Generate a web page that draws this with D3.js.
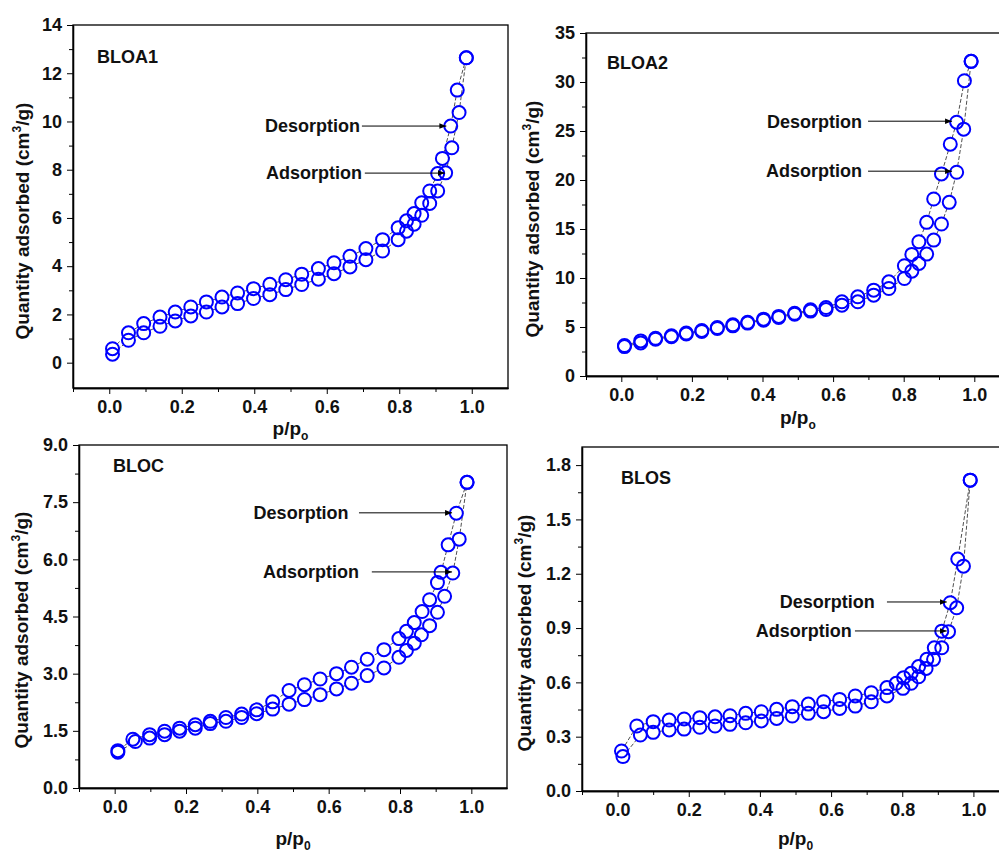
<!DOCTYPE html>
<html>
<head>
<meta charset="utf-8">
<script src="https://cdn.jsdelivr.net/npm/d3@7"></script>
<style>
  body { margin: 0; background: #fff; }
  svg { display: block; font-family: "Liberation Sans", Arial, sans-serif; font-weight: bold; }
</style>
</head>
<body>
<div id="chart"></div>
<script>
// ---- data (p/p0 , quantity adsorbed) ----
const bloa1AdsX = [0.009,0.053,0.095,0.140,0.182,0.225,0.268,0.311,0.354,0.398,0.443,0.487,0.531,0.577,0.620,0.664,0.708,0.754,0.797,0.820,0.841,0.862,0.884,0.906,0.928,0.945,0.965,0.985];
const bloa1AdsY = [0.35,0.93,1.24,1.51,1.73,1.94,2.10,2.31,2.45,2.66,2.82,3.03,3.24,3.46,3.69,3.97,4.27,4.63,5.10,5.45,5.74,6.11,6.60,7.12,7.87,8.91,10.37,12.64];
const bloa1DesX = [0.985,0.960,0.942,0.919,0.906,0.884,0.862,0.841,0.820,0.797,0.754,0.708,0.664,0.620,0.577,0.531,0.487,0.443,0.398,0.354,0.311,0.268,0.225,0.182,0.140,0.095,0.053,0.009];
const bloa1DesY = [12.64,11.30,9.81,8.47,7.84,7.12,6.63,6.18,5.88,5.59,5.10,4.73,4.41,4.14,3.90,3.67,3.44,3.25,3.07,2.89,2.72,2.52,2.31,2.10,1.89,1.62,1.24,0.58];

const bloa2AdsX = [0.009,0.055,0.097,0.142,0.184,0.228,0.272,0.316,0.358,0.403,0.446,0.491,0.536,0.580,0.625,0.670,0.715,0.758,0.802,0.823,0.843,0.865,0.885,0.907,0.929,0.950,0.970,0.991];
const bloa2AdsY = [3.00,3.37,3.75,4.00,4.28,4.55,4.85,5.12,5.40,5.70,5.98,6.30,6.62,6.78,7.23,7.57,8.25,8.93,9.95,10.70,11.49,12.44,13.87,15.51,17.72,20.79,25.19,32.11];
const bloa2DesX = [0.991,0.972,0.950,0.932,0.907,0.885,0.865,0.843,0.823,0.802,0.758,0.715,0.670,0.625,0.580,0.536,0.491,0.446,0.403,0.358,0.316,0.272,0.228,0.184,0.142,0.097,0.055,0.009];
const bloa2DesY = [32.11,30.13,25.90,23.65,20.62,18.06,15.68,13.70,12.41,11.25,9.61,8.76,8.08,7.57,6.99,6.75,6.40,6.08,5.80,5.48,5.22,4.95,4.65,4.38,4.10,3.85,3.58,3.10];

const blocAdsX = [0.009,0.058,0.098,0.140,0.182,0.226,0.268,0.312,0.356,0.398,0.443,0.489,0.532,0.576,0.622,0.664,0.708,0.755,0.797,0.818,0.840,0.860,0.883,0.905,0.925,0.948,0.966,0.988];
const blocAdsY = [0.94,1.22,1.31,1.40,1.49,1.57,1.69,1.75,1.85,1.95,2.07,2.20,2.32,2.45,2.60,2.75,2.95,3.15,3.43,3.61,3.80,4.02,4.26,4.61,5.03,5.64,6.53,8.02];
const blocDesX = [0.988,0.958,0.935,0.915,0.905,0.883,0.862,0.840,0.818,0.797,0.755,0.708,0.664,0.622,0.576,0.532,0.489,0.443,0.398,0.356,0.312,0.268,0.226,0.182,0.140,0.098,0.051,0.009];
const blocDesY = [8.02,7.21,6.38,5.66,5.39,4.94,4.63,4.34,4.11,3.92,3.63,3.38,3.17,3.00,2.86,2.71,2.56,2.26,2.05,1.94,1.85,1.75,1.66,1.57,1.49,1.40,1.28,0.98];

const blosAdsX = [0.015,0.064,0.100,0.145,0.187,0.231,0.274,0.316,0.360,0.404,0.447,0.491,0.536,0.579,0.624,0.668,0.713,0.757,0.802,0.825,0.846,0.867,0.888,0.911,0.930,0.953,0.972,0.991];
const blosAdsY = [0.190,0.309,0.324,0.337,0.342,0.352,0.359,0.368,0.377,0.387,0.401,0.414,0.429,0.438,0.456,0.469,0.493,0.525,0.567,0.595,0.631,0.677,0.727,0.791,0.880,1.012,1.242,1.717];
const blosDesX = [0.991,0.956,0.935,0.911,0.890,0.869,0.846,0.825,0.804,0.783,0.757,0.713,0.668,0.624,0.579,0.536,0.491,0.447,0.404,0.360,0.316,0.274,0.231,0.187,0.145,0.100,0.054,0.011];
const blosDesY = [1.717,1.281,1.040,0.883,0.791,0.727,0.687,0.650,0.626,0.595,0.571,0.543,0.525,0.506,0.493,0.480,0.466,0.451,0.438,0.429,0.416,0.410,0.405,0.398,0.392,0.383,0.359,0.221];

// ticks
const xTicks = [0.0,0.2,0.4,0.6,0.8,1.0];
const xMinorTicks = [-0.1,0.1,0.3,0.5,0.7,0.9];
const bloa1YTicks = [0,2,4,6,8,10,12,14];
const bloa1YMinor = [1,3,5,7,9,11,13];
const bloa2YTicks = [0,5,10,15,20,25,30,35];
const bloa2YMinor = [2.5,7.5,12.5,17.5,22.5,27.5,32.5];
const blocYTicks = [0,1.5,3,4.5,6,7.5,9];
const blocYMinor = [0.75,2.25,3.75,5.25,6.75,8.25];
const blosYTicks = [0,0.3,0.6,0.9,1.2,1.5,1.8];
const blosYMinor = [0.15,0.45,0.75,1.05,1.35,1.65];

// annotations: text end x, arrow start x, arrow end x, y (data units)
const bloa1Notes = [{label:"Desorption", tx:0.692, x0:0.697, x1:0.930, y:9.81},
                    {label:"Adsorption", tx:0.697, x0:0.705, x1:0.926, y:7.86}];
const bloa2Notes = [{label:"Desorption", tx:0.682, x0:0.699, x1:0.937, y:26.0},
                    {label:"Adsorption", tx:0.682, x0:0.699, x1:0.937, y:20.9}];
const blocNotes  = [{label:"Desorption", tx:0.656, x0:0.685, x1:0.946, y:7.22},
                    {label:"Adsorption", tx:0.685, x0:0.721, x1:0.946, y:5.67}];
const blosNotes  = [{label:"Desorption", tx:0.723, x0:0.757, x1:0.925, y:1.044},
                    {label:"Adsorption", tx:0.658, x0:0.667, x1:0.925, y:0.884}];

const panels = [
  {name:"BLOA1", adsX:bloa1AdsX, adsY:bloa1AdsY, desX:bloa1DesX, desY:bloa1DesY, yTicks:bloa1YTicks, yMinor:bloa1YMinor, notes:bloa1Notes,
   box:{left:73, top:25, right:508, bottom:388}, yDomain:[-1.05,14], fmt:d3.format("d"), nameOff:[24,38], yTitle:[29,221], xTitleY:435, sub:"o"},
  {name:"BLOA2", adsX:bloa2AdsX, adsY:bloa2AdsY, desX:bloa2DesX, desY:bloa2DesY, yTicks:bloa2YTicks, yMinor:bloa2YMinor, notes:bloa2Notes,
   box:{left:586, top:33, right:1009.6, bottom:376}, yDomain:[0,35], fmt:d3.format("d"), nameOff:[21,36], yTitle:[539,219], xTitleY:424, sub:"o"},
  {name:"BLOC", adsX:blocAdsX, adsY:blocAdsY, desX:blocDesX, desY:blocDesY, yTicks:blocYTicks, yMinor:blocYMinor, notes:blocNotes,
   box:{left:79, top:445, right:507, bottom:788}, yDomain:[0,9], fmt:d3.format(".1f"), nameOff:[34,27], yTitle:[28,630], xTitleY:845, sub:"0"},
  {name:"BLOS", adsX:blosAdsX, adsY:blosAdsY, desX:blosDesX, desY:blosDesY, yTicks:blosYTicks, yMinor:blosYMinor, notes:blosNotes,
   box:{left:582, top:447, right:1009, bottom:791}, yDomain:[0,1.9], fmt:d3.format(".1f"), nameOff:[39,37], yTitle:[531,633], xTitleY:845, sub:"0"}
];

const R = 6.5;

const svg = d3.select("#chart").append("svg")
  .attr("width", 999)
  .attr("height", 852);

svg.append("defs").append("marker")
  .attr("id", "arrow")
  .attr("viewBox", "0 0 10 10")
  .attr("refX", 10).attr("refY", 5)
  .attr("markerWidth", 7).attr("markerHeight", 7)
  .attr("markerUnits", "userSpaceOnUse")
  .attr("orient", "auto")
  .append("path")
  .attr("d", "M0,1 L10,5 L0,9 Z")
  .attr("fill", "#000");

panels.forEach(p => {
  const b = p.box;
  const g = svg.append("g");
  const x = d3.scaleLinear().domain([-0.1, 1.1]).range([b.left, b.right]);
  const y = d3.scaleLinear().domain(p.yDomain).range([b.bottom, b.top]);

  // frame
  g.append("rect")
    .attr("x", b.left).attr("y", b.top)
    .attr("width", b.right - b.left).attr("height", b.bottom - b.top)
    .attr("fill", "none").attr("stroke", "#000").attr("stroke-width", 1.3);

  // x axis
  g.append("g").attr("transform", `translate(0,${b.bottom})`)
    .call(d3.axisBottom(x).tickValues(xTicks).tickSize(6).tickSizeOuter(0).tickPadding(6).tickFormat(d3.format(".1f")));
  g.append("g").attr("transform", `translate(0,${b.bottom})`)
    .call(d3.axisBottom(x).tickValues(xMinorTicks).tickSize(4).tickSizeOuter(0).tickFormat(""));

  // y axis
  g.append("g").attr("transform", `translate(${b.left},0)`)
    .call(d3.axisLeft(y).tickValues(p.yTicks).tickSize(6).tickSizeOuter(0).tickPadding(5).tickFormat(p.fmt));
  g.append("g").attr("transform", `translate(${b.left},0)`)
    .call(d3.axisLeft(y).tickValues(p.yMinor).tickSize(4).tickSizeOuter(0).tickFormat(""));

  g.selectAll(".domain").attr("stroke", "#000").attr("stroke-width", 1.3);
  g.selectAll(".tick line").attr("stroke", "#000").attr("stroke-width", 1);
  g.selectAll(".tick text")
    .attr("font-size", 18).attr("font-weight", "bold")
    .attr("font-family", "'Liberation Sans', Arial, sans-serif")
    .attr("fill", "#111");

  // axis titles
  const xt = g.append("text")
    .attr("x", x(0.5)).attr("y", p.xTitleY)
    .attr("text-anchor", "middle")
    .attr("font-size", 19).attr("fill", "#111");
  xt.append("tspan").text("p/p");
  xt.append("tspan").attr("font-size", 12).attr("dy", 5).text(p.sub);

  const yt = g.append("text")
    .attr("transform", `translate(${p.yTitle[0]},${p.yTitle[1]}) rotate(-90)`)
    .attr("text-anchor", "middle")
    .attr("font-size", 19).attr("fill", "#111");
  yt.append("tspan").text("Quantity adsorbed (cm");
  yt.append("tspan").attr("font-size", 12).attr("dy", -8).text("3");
  yt.append("tspan").attr("dy", 8).text("/g)");

  // sample name
  g.append("text")
    .attr("x", b.left + p.nameOff[0]).attr("y", b.top + p.nameOff[1])
    .attr("font-size", 18).attr("fill", "#111")
    .text(p.name);

  const ads = p.adsX.map((v, i) => [v, p.adsY[i]]);
  const des = p.desX.map((v, i) => [v, p.desY[i]]);

  // connecting lines, broken at the symbols (gap of one radius at each end)
  [ads, des].forEach(s => {
    d3.pairs(s).forEach(([a, c]) => {
      const x1 = x(a[0]), y1 = y(a[1]), x2 = x(c[0]), y2 = y(c[1]);
      const len = Math.hypot(x2 - x1, y2 - y1);
      if (len <= 2 * R + 1) return;
      const ux = (x2 - x1) / len, uy = (y2 - y1) / len;
      g.append("line")
        .attr("x1", x1 + ux * R).attr("y1", y1 + uy * R)
        .attr("x2", x2 - ux * R).attr("y2", y2 - uy * R)
        .attr("stroke", "#222")
        .attr("stroke-width", 0.8)
        .attr("stroke-dasharray", "4,2");
    });
  });

  // markers
  g.selectAll("circle.ads").data(ads).enter().append("circle")
    .attr("class", "ads")
    .attr("cx", d => x(d[0])).attr("cy", d => y(d[1])).attr("r", R)
    .attr("fill", "none").attr("stroke", "#0000ff").attr("stroke-width", 2);
  g.selectAll("circle.des").data(des).enter().append("circle")
    .attr("class", "des")
    .attr("cx", d => x(d[0])).attr("cy", d => y(d[1])).attr("r", R)
    .attr("fill", "none").attr("stroke", "#0000ff").attr("stroke-width", 2);

  // annotations
  p.notes.forEach(n => {
    g.append("text")
      .attr("x", x(n.tx)).attr("y", y(n.y)).attr("dy", "0.35em")
      .attr("text-anchor", "end")
      .attr("font-size", 18).attr("fill", "#111")
      .text(n.label);
    g.append("line")
      .attr("x1", x(n.x0)).attr("x2", x(n.x1))
      .attr("y1", y(n.y)).attr("y2", y(n.y))
      .attr("stroke", "#000").attr("stroke-width", 1)
      .attr("marker-end", "url(#arrow)");
  });
});
</script>
</body>
</html>
